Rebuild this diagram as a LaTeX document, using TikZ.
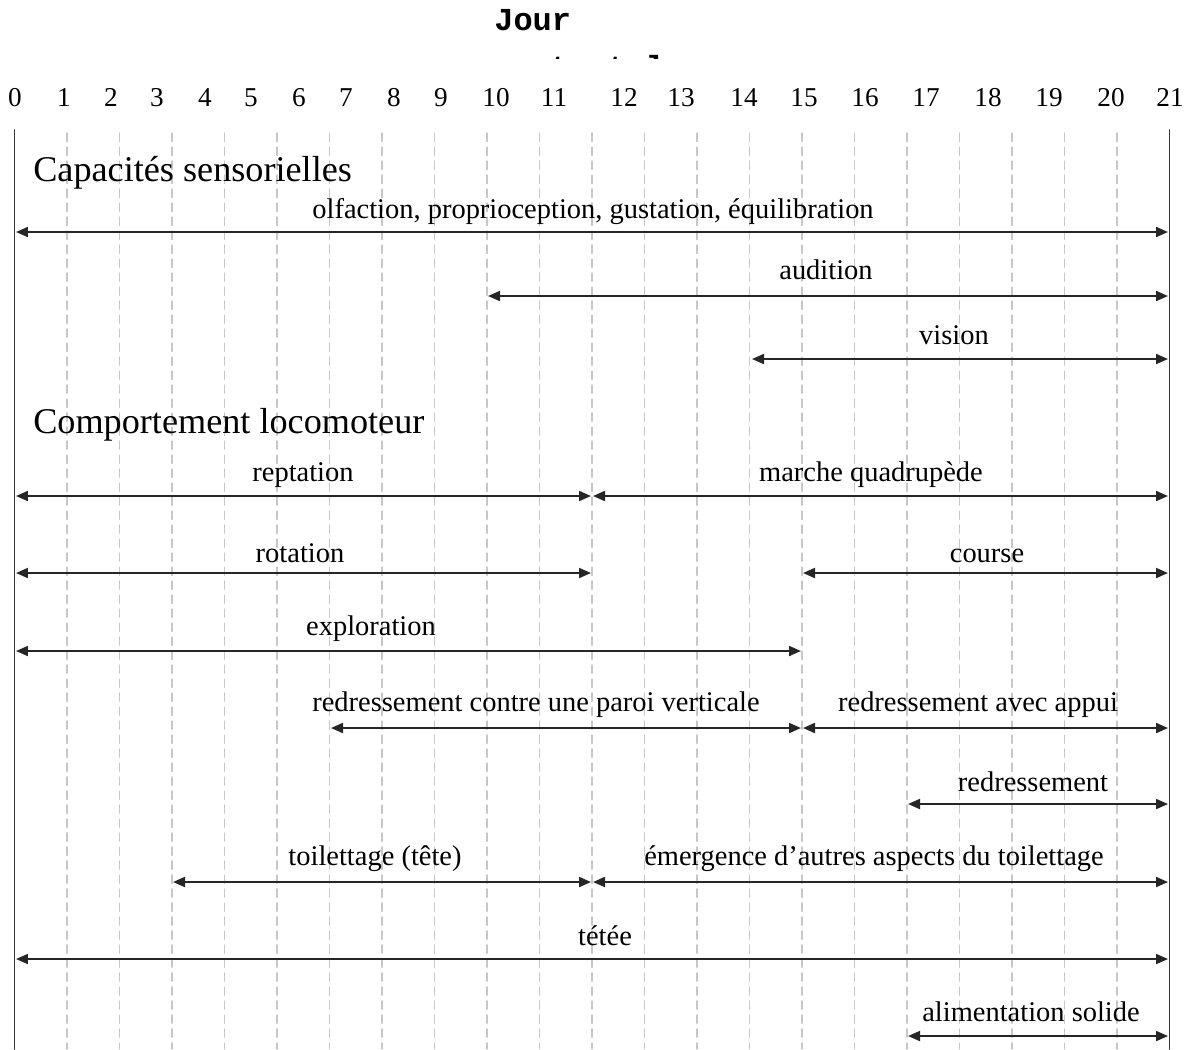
\documentclass[tikz,border=0pt]{standalone}
\usepackage{fontspec}
\setmainfont{Liberation Serif}
\newfontfamily\courier{Liberation Mono}
\usetikzlibrary{arrows.meta}
\tikzset{
  fleche/.style={{Triangle[length=0.24cm,width=0.2cm]}-{Triangle[length=0.24cm,width=0.2cm]}, line width=1.1pt, black!85},
  grille/.style={black!22, line width=0.6pt, dash pattern=on 0.17cm off 0.11cm},
  axe/.style={black!80, line width=1.1pt},
  etiq/.style={anchor=base, inner sep=0pt, font=\fontsize{16.2}{19}\selectfont},
  titre/.style={anchor=base west, inner sep=0pt, font=\fontsize{20.6}{24}\selectfont},
  num/.style={anchor=base, inner sep=0pt, font=\fontsize{15.5}{18}\selectfont},
  jour/.style={anchor=base west, inner sep=0pt, font=\courier\bfseries\fontsize{18.2}{21}\selectfont}
}
\begin{document}
\begin{tikzpicture}[line cap=round, line join=round, x=0.02cm, y=-0.02cm]
                \useasboundingbox (0,0) rectangle (1195,1049);
                \node[jour] (jour) at (494,30) {Jour};
                \begin{scope}
                    \clip (480,40) rectangle (700,58);
                    \node[jour] (postnatal) at (492,78.5) {postnatal};
                \end{scope}
                \foreach \n/\x in {0/15,1/64,2/111,3/157,4/205,5/251,6/299,7/346,8/394,9/441,10/496,11/554,12/624,13/681,14/744,15/804,16/865,17/926,18/988,19/1049,20/1111,21/1170}
                    \node[num] (n\n) at (\x,106) {\n};
                \foreach \k in {1,...,21}
                    \draw[grille] (14.5+52.5*\k,133) -- (14.5+52.5*\k,1049);
                \coordinate (axeg-h) at (14.5,130);
                \coordinate (axeg-b) at (14.5,1049);
                \coordinate (axed-h) at (1169.5,130);
                \coordinate (axed-b) at (1169.5,1049);
                \draw[axe] (axeg-h) -- (axeg-b);
                \draw[axe] (axed-h) -- (axed-b);
                \node[titre] (capa) at (33,181) {Capacités sensorielles};
                \node[titre] (comp) at (33,433) {Comportement locomoteur};
                \foreach \nom/\xa/\xb/\y/\xt/\dy/\txt in {
                    {olf/16/1168/232/593/14/olfaction, proprioception, gustation, équilibration},
                    aud/488/1168/296/826/17/audition,
                    vis/752/1168/359/954/15/vision,
                    rep/16/591/496/303/15/reptation,
                    mar/593/1168/496/871/15/marche quadrupède,
                    rot/16/591/573/300/11/rotation,
                    cou/803/1168/573/987/11/course,
                    exp/16/801/651/371/16/exploration,
                    par/331/801/728/536/17/redressement contre une paroi verticale,
                    app/803/1168/728/978/17/redressement avec appui,
                    red/908/1168/804/1033/13/redressement,
                    toi/173/591/882/375/17/toilettage (tête),
                    eme/593/1168/882/874/17/émergence d’autres aspects du toilettage,
                    tet/16/1168/959/605/14/tétée,
                    ali/908/1168/1036/1031/15/alimentation solide}
                {
                    \coordinate (\nom-g) at (\xa,\y);
                    \coordinate (\nom-d) at (\xb,\y);
                    \draw[fleche] (\nom-g) -- (\nom-d);
                    \node[etiq] (\nom) at (\xt,\y-\dy) {\txt};
                }
            \end{tikzpicture}
\end{document}
